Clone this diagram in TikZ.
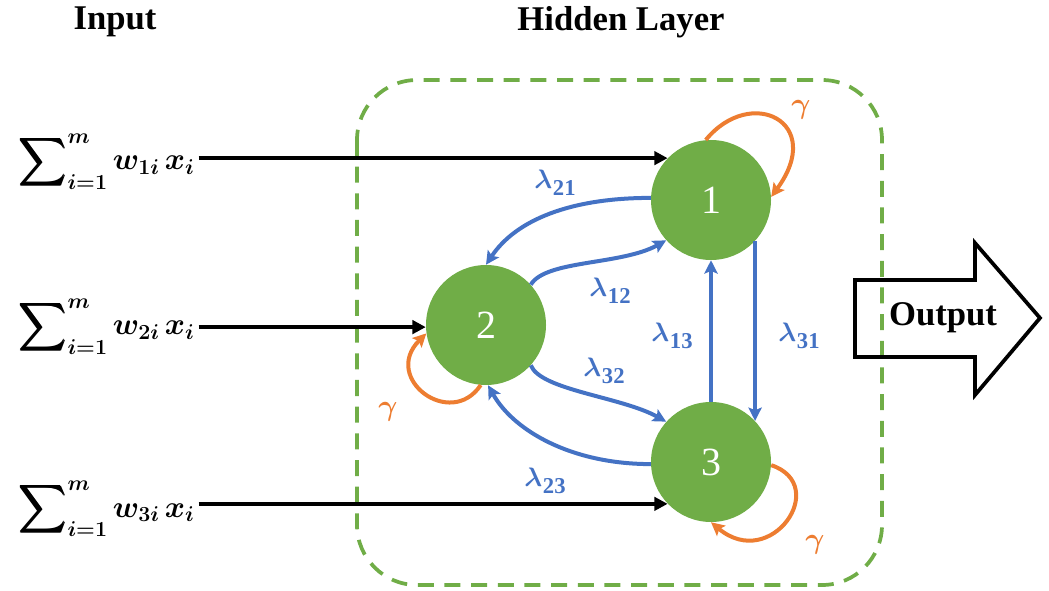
\RequirePackage{fix-cm}
\documentclass[tikz,border=0pt]{standalone}
\usepackage{amsmath,bm}
\usepackage{fontspec}
\setmainfont{Liberation Serif}
\usetikzlibrary{arrows.meta}
\definecolor{nodegreen}{HTML}{70AD47}
\definecolor{linkblue}{HTML}{4472C4}
\definecolor{looporange}{HTML}{ED7D31}
% lambda with a large bold index
\newcommand{\lbd}[1]{$\bm{\lambda}$\kern0.5pt\raisebox{-5pt}{\fontsize{17}{17}\selectfont\bfseries #1}}
\begin{document}
\begin{tikzpicture}[x=0.75pt,y=-0.75pt,
    neuron/.style={circle,fill=nodegreen,minimum size=90pt,inner sep=0,text=white,
      font=\fontsize{30}{36}\selectfont},
    heading/.style={font=\fontsize{26}{30}\selectfont\bfseries},
    sumlabel/.style={anchor=base west,inner sep=3pt,font=\fontsize{23}{28}\selectfont},
    linklabel/.style={text=linkblue,inner sep=1pt,font=\fontsize{20}{22}\selectfont},
    gammalabel/.style={text=looporange,font=\fontsize{22}{24}\selectfont},
    inputarrow/.style={line width=2.8pt,-{Triangle[length=10pt,width=10pt]}},
    linkarrow/.style={linkblue,line width=3pt,-{Stealth[length=10pt,width=10pt,inset=2pt]}},
    selfloop/.style={looporange,line width=3pt,-{Stealth[length=10pt,width=10pt,inset=2pt]}}]
  \useasboundingbox (0,0) rectangle (1049,591);
  % hidden layer frame
  \draw[nodegreen,line width=2.8pt,dash pattern=on 12pt off 8pt,rounded corners=45pt]
    (357,80) rectangle (882,585);
  % titles
  \node[heading] (inp) at (115,22) {Input};
  \node[heading] (hid) at (621,22) {Hidden Layer};
  % neurons
  \node[neuron] (n1) at (711,200) {1};
  \node[neuron] (n2) at (486,325) {2};
  \node[neuron] (n3) at (711,462) {3};
  % weighted inputs
  \node[sumlabel] (in1) at (14,170) {$\displaystyle\bm{\sum\nolimits_{i=1}^{m} w_{1i}\,x_i}$};
  \node[sumlabel] (in2) at (14,335) {$\displaystyle\bm{\sum\nolimits_{i=1}^{m} w_{2i}\,x_i}$};
  \node[sumlabel] (in3) at (14,517) {$\displaystyle\bm{\sum\nolimits_{i=1}^{m} w_{3i}\,x_i}$};
  \draw[inputarrow] (in1.east |- n1.136) -- (n1.136);
  \draw[inputarrow] (in2.east |- n2.182) -- (n2.182);
  \draw[inputarrow] (in3.east |- n3.224) -- (n3.224);
  % links between neurons
  \draw[linkarrow] (n1.178) .. controls +(-80,0) and +(30,-45) .. (n2.90);
  \draw[linkarrow] (n2.42) .. controls +(15,-25) and +(-45,25) .. (n1.222);
  \draw[linkarrow] (n2.-42) .. controls +(10,25) and +(-45,-25) .. (n3.138);
  \draw[linkarrow] (n3.182) .. controls +(-80,0) and +(25,45) .. (n2.-88);
  \draw[linkarrow] (n3.90) -- (n1.-90);
  \draw[linkarrow] (n1.-43) -- (n3.43);
  \node[linklabel] (l21) at (555,183) {\lbd{21}};
  \node[linklabel] (l12) at (610,291) {\lbd{12}};
  \node[linklabel] (l13) at (672,336) {\lbd{13}};
  \node[linklabel] (l31) at (799,336) {\lbd{31}};
  \node[linklabel] (l32) at (604,371) {\lbd{32}};
  \node[linklabel] (l23) at (545,481) {\lbd{23}};
  % self loops
  \draw[selfloop] (n1.95) .. controls +(45,-55) and +(55,-75) .. (n1.3);
  \draw[selfloop] (n2.-95) .. controls +(-30,45) and +(-45,45) .. (n2.188);
  \draw[selfloop] (n3.-3) .. controls +(60,20) and +(60,50) .. (n3.-90);
  \node[gammalabel] (g1) at (801,110) {$\bm{\gamma}$};
  \node[gammalabel] (g2) at (388,412) {$\bm{\gamma}$};
  \node[gammalabel] (g3) at (815,545) {$\bm{\gamma}$};
  % output arrow
  \draw[line width=2.8pt,line join=miter]
    (855,280) -- (975,280) -- (975,243) -- (1040,318) -- (975,395) -- (975,357) -- (855,357) -- cycle;
  \node[heading] (out) at (943,318) {Output};
\end{tikzpicture}
\end{document}
